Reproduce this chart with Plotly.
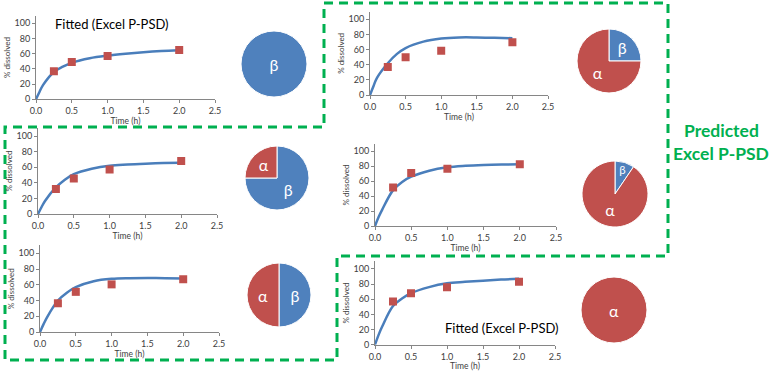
import plotly.graph_objects as go

# ---------------- data ----------------
obs_t = [0.25, 0.5, 1.0, 2.0]
fit_t = [0, 0.05, 0.1, 0.25, 0.375, 0.5, 0.75, 1.0, 1.25, 1.5, 1.75, 2.0]

obs_p1 = [37, 49, 57, 65]
fit_p1 = [0, 10, 19, 36, 43, 48, 54, 57.5, 60, 62, 63.5, 64.5]
obs_p2 = [37, 50, 58.5, 69.5]
fit_p2 = [0, 12, 23, 42, 54, 62, 70.5, 74.5, 76, 76, 75.5, 75]
obs_p3 = [32, 45.5, 57, 68]
fit_p3 = [0, 9, 17, 34, 44, 51, 58, 62, 63.5, 64.5, 65.3, 65.8]
obs_p4 = [36.5, 51, 60.5, 67]
fit_p4 = [0, 10, 19, 40, 50, 57, 64.5, 67.5, 68.3, 68.5, 68.3, 68]
obs_p5 = [51.5, 71, 76.5, 82.5]
fit_p5 = [0, 12, 22, 48, 59, 66, 74, 78.5, 80.5, 81.6, 82.2, 82.5]
obs_p6 = [57, 68, 76, 83]
fit_p6 = [0, 13, 24, 51, 61, 68, 76, 81, 83, 84.6, 86, 87]

pie_labels_p1 = ["β"];        pie_values_p1 = [100]
pie_labels_p2 = ["β", "α"];   pie_values_p2 = [25, 75]
pie_labels_p3 = ["β", "α"];   pie_values_p3 = [75, 25]
pie_labels_p4 = ["β", "α"];   pie_values_p4 = [50, 50]
pie_labels_p5 = ["β", "α"];   pie_values_p5 = [9.5, 90.5]
pie_labels_p6 = ["α"];        pie_values_p6 = [100]

x_ticks = [0, 0.5, 1.0, 1.5, 2.0, 2.5]
y_ticks = [0, 20, 40, 60, 80, 100]

# ---------------- layout helpers ----------------
W, H = 783, 372
def px(x):
    return x / W
def py(y):
    return 1 - y / H

BLUE = "#4F81BD"
RED = "#C0504D"
LINE_BLUE = "#4A7EBB"
GREEN = "#00B050"
AX = "#868686"
FONT = "Lato"

# plot area boxes: (left, right, top(y=110), bottom(y=0)) in pixels
panels = [
    (obs_p1, fit_p1, (36, 215, 15.7, 99.3)),
    (obs_p2, fit_p2, (370, 548, 11.7, 95)),
    (obs_p3, fit_p3, (38, 217, 128.2, 214)),
    (obs_p4, fit_p4, (40, 219, 245.4, 332)),
    (obs_p5, fit_p5, (375, 556, 143.8, 226)),
    (obs_p6, fit_p6, (375, 555, 261.4, 344.7)),
]

# pies: (labels, values, cx, cy, r)
pies = [
    (pie_labels_p1, pie_values_p1, 274, 64, 33),
    (pie_labels_p2, pie_values_p2, 609, 61, 32),
    (pie_labels_p3, pie_values_p3, 277, 178, 32),
    (pie_labels_p4, pie_values_p4, 279, 295, 32),
    (pie_labels_p5, pie_values_p5, 615, 194, 33),
    (pie_labels_p6, pie_values_p6, 614, 310, 33),
]
color_map = {"α": RED, "β": BLUE}

fig = go.Figure()
layout = dict(
    width=W, height=H,
    margin=dict(l=0, r=0, t=0, b=0, autoexpand=False),
    paper_bgcolor="white", plot_bgcolor="white",
    showlegend=False,
    font=dict(family=FONT, color="#404040"),
)

for i, (obs, fit, (l, r, t, b)) in enumerate(panels, start=1):
    xa = "x" if i == 1 else f"x{i}"
    ya = "y" if i == 1 else f"y{i}"
    fig.add_trace(go.Scatter(
        x=fit_t, y=fit, xaxis=xa, yaxis=ya, mode="lines",
        line=dict(color=LINE_BLUE, width=2.5, shape="spline", smoothing=1.0),
        hoverinfo="skip"))
    fig.add_trace(go.Scatter(
        x=obs_t, y=obs, xaxis=xa, yaxis=ya, mode="markers",
        marker=dict(symbol="square", size=8, color=RED), hoverinfo="skip"))
    xkey = "xaxis" if i == 1 else f"xaxis{i}"
    ykey = "yaxis" if i == 1 else f"yaxis{i}"
    layout[xkey] = dict(
        domain=[px(l), px(r)], anchor=ya, range=[0, 2.5], automargin=False,
        tickvals=x_ticks, tickformat=".1f",
        showline=True, linecolor=AX, linewidth=1,
        ticks="outside", ticklen=3, tickcolor=AX,
        showgrid=False, zeroline=False,
        tickfont=dict(size=9, color="#404040", family=FONT),
        title=dict(text="Time (h)", font=dict(size=8.5, color="#404040", family=FONT), standoff=0),
    )
    layout[ykey] = dict(
        domain=[py(b), py(t)], anchor=xa, range=[0, 110], automargin=False,
        tickvals=y_ticks,
        showline=True, linecolor=AX, linewidth=1,
        ticks="outside", ticklen=3, tickcolor=AX,
        showgrid=False, zeroline=False,
        tickfont=dict(size=9, color="#404040", family=FONT),
        title=dict(text="% dissolved", font=dict(size=8, color="#404040", family=FONT), standoff=2),
    )

for labels, values, cx, cy, rr in pies:
    fig.add_trace(go.Pie(
        labels=labels, values=values, sort=False, direction="clockwise", rotation=0,
        marker=dict(colors=[color_map[k] for k in labels], line=dict(color="white", width=1)),
        textinfo="label", textposition="inside", insidetextorientation="horizontal",
        textfont=dict(size=16, color="white", family=FONT),
        domain=dict(x=[px(cx - rr), px(cx + rr)], y=[py(cy + rr), py(cy - rr)]),
        hoverinfo="skip",
    ))

# dashed green outline around the "Predicted" panels
pts = [(324, 3), (668, 3), (668, 256), (337, 256), (337, 360), (5, 360), (5, 127), (324, 127)]
path = "M " + " L ".join(f"{px(x):.5f},{py(y):.5f}" for x, y in pts) + " Z"
layout["shapes"] = [dict(type="path", path=path, xref="paper", yref="paper",
                         line=dict(color=GREEN, width=3, dash="9px,6px"))]

def ann(text, x, y, size, color):
    return dict(text=text, x=px(x), y=py(y), xref="paper", yref="paper",
                xanchor="center", yanchor="middle", showarrow=False,
                font=dict(size=size, color=color, family=FONT))

layout["annotations"] = [
    ann("Fitted (Excel P-PSD)", 112, 24, 13, "#000000"),
    ann("Fitted (Excel P-PSD)", 502, 328, 13, "#000000"),
    ann("<b>Predicted</b>", 721, 130, 17.5, GREEN),
    ann("<b>Excel P-PSD</b>", 721, 153, 17.5, GREEN),
]

fig.update_layout(**layout)
fig.write_html("out.html", config={"displayModeBar": False},
               post_script="document.body.style.margin='0';document.body.style.overflow='hidden';")
